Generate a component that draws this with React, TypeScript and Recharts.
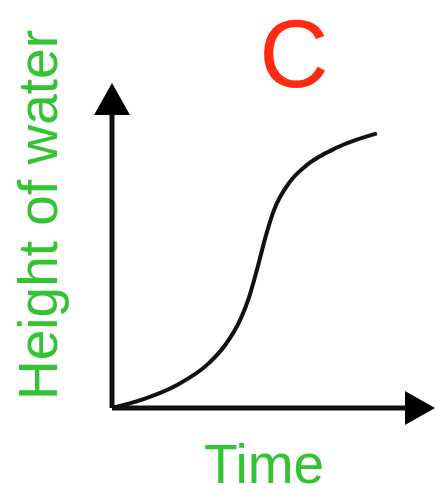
import { LineChart, Line, XAxis, YAxis, ReferenceLine, ReferenceDot } from "recharts";

const times = [0, 1, 2, 3, 3.5, 4, 4.25, 4.5, 4.75, 5, 5.5, 6, 7, 8.2];
const heights = [0, 0.28, 0.7, 1.38, 1.93, 2.78, 3.43, 4.3, 5.25, 6.05, 6.95, 7.45, 8.03, 8.45];

const title = "C";
const xLabel = "Time";
const yLabel = "Height of water";

const green = "#33c433";

const data = times.map((t, i) => ({ time: t, height: heights[i] }));

const ArrowUp = ({ cx, cy }: any) => (
  <polygon points={`${cx},${cy} ${cx - 18},${cy + 32} ${cx + 18},${cy + 32}`} fill="#000" />
);

const ArrowRight = ({ cx, cy }: any) => (
  <polygon points={`${cx},${cy} ${cx - 30},${cy - 17} ${cx - 30},${cy + 17}`} fill="#000" />
);

export default function App() {
  return (
    <div style={{ position: "absolute", left: 0, top: 0, background: "#fff" }}>
      <LineChart
        width={441}
        height={499}
        data={data}
        margin={{ top: 83, right: 6, bottom: 91, left: 112 }}
      >
        <XAxis type="number" dataKey="time" domain={[0, 10]} hide />
        <YAxis type="number" domain={[0, 10]} hide />
        <ReferenceLine
          segment={[{ x: 0, y: 0 }, { x: 9.1, y: 0 }]}
          stroke="#111"
          strokeWidth={5}
          ifOverflow="visible"
        />
        <ReferenceLine
          segment={[{ x: 0, y: 0 }, { x: 0, y: 9.05 }]}
          stroke="#111"
          strokeWidth={5}
          ifOverflow="visible"
        />
        <ReferenceDot x={10} y={0} shape={ArrowRight} ifOverflow="visible" />
        <ReferenceDot x={0} y={10} shape={ArrowUp} ifOverflow="visible" />
        <Line
          type="monotone"
          dataKey="height"
          stroke="#111"
          strokeWidth={4}
          dot={false}
          isAnimationActive={false}
        />
        <text x={294} y={87} textAnchor="middle" fill="#ff2a10" fontSize={96} fontFamily="Liberation Sans">
          {title}
        </text>
        <text x={264} y={483} textAnchor="middle" fill={green} fontSize={55} fontFamily="Liberation Sans">
          {xLabel}
        </text>
        <text
          x={57}
          y={215}
          textAnchor="middle"
          fill={green}
          fontSize={55}
          fontFamily="Liberation Sans"
          transform="rotate(-90, 57, 215)"
        >
          {yLabel}
        </text>
      </LineChart>
    </div>
  );
}
